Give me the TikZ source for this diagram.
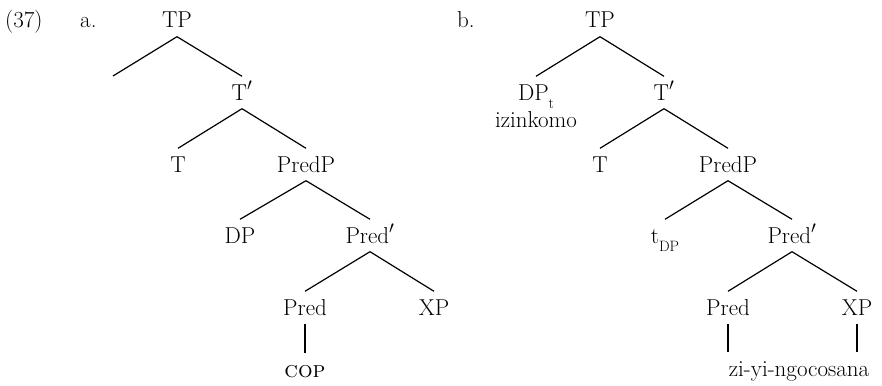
\documentclass[tikz,border=0pt]{standalone}
\newcommand\mysub[1]{\raisebox{-8pt}{\fontsize{15}{18}\selectfont #1}}
\begin{document}
\begin{tikzpicture}[x=1pt,y=-1pt,
  tn/.style={anchor=base,font=\fontsize{23}{27}\selectfont,inner xsep=0pt,inner ysep=8.5pt,text height=15pt,text depth=0pt},
  lab/.style={anchor=base,font=\fontsize{23}{27}\selectfont,inner sep=0pt},
  br/.style={line width=1.2pt}]
\useasboundingbox (0,0) rectangle (882,385);
% labels
\node[lab,anchor=base west] (num) at (5,28) {(37)};
\node[lab,anchor=base west] (la) at (80,28) {a.};
\node[lab,anchor=base west] (lb) at (457,28) {b.};
% tree a
\node[tn] (aTP) at (177,28) {TP};
\coordinate (aE) at (113,76);
\node[tn] (aTp) at (242,100) {T$'$};
\node[tn] (aT) at (178,172) {T};
\node[tn] (aPredP) at (306,172) {PredP};
\node[tn] (aDP) at (240,243) {DP};
\node[tn] (aPredp) at (370,243) {Pred$'$};
\node[tn] (aPred) at (305,315) {Pred};
\node[tn] (aXP) at (434,315) {XP};
\node[tn] (acop) at (305,377) {\textsc{cop}};
\draw[br] (aTP.south) -- (aE);
\draw[br] (aTP.south) -- (aTp.north);
\draw[br] (aTp.south) -- (aT.north);
\draw[br] (aTp.south) -- (aPredP.north);
\draw[br] (aPredP.south) -- (aDP.north);
\draw[br] (aPredP.south) -- (aPredp.north);
\draw[br] (aPredp.south) -- (aPred.north);
\draw[br] (aPredp.south) -- (aXP.north);
\draw[br] (aPred.south) -- (acop.north);
% tree b
\node[tn] (bTP) at (600,28) {TP};
\node[tn] (bDPt) at (536,100) {DP\mysub{t}};
\node[lab] (biz) at (536,128) {izinkomo};
\node[tn] (bTp) at (664,100) {T$'$};
\node[tn] (bT) at (600,172) {T};
\node[tn] (bPredP) at (728,172) {PredP};
\node[tn] (btDP) at (665,243) {t\mysub{DP}};
\node[tn] (bPredp) at (792,243) {Pred$'$};
\node[tn] (bPred) at (728,315) {Pred};
\node[tn] (bXP) at (857,315) {XP};
\node[tn] (bword) at (799,376) {zi-yi-ngocosana};
\draw[br] (bTP.south) -- (bDPt.north);
\draw[br] (bTP.south) -- (bTp.north);
\draw[br] (bTp.south) -- (bT.north);
\draw[br] (bTp.south) -- (bPredP.north);
\draw[br] (bPredP.south) -- (btDP.north);
\draw[br] (bPredP.south) -- (bPredp.north);
\draw[br] (bPredp.south) -- (bPred.north);
\draw[br] (bPredp.south) -- (bXP.north);
\draw[br] (bPred.south) -- (bPred.south |- bword.north);
\draw[br] (bXP.south) -- (bXP.south |- bword.north);
\end{tikzpicture}
\end{document}
